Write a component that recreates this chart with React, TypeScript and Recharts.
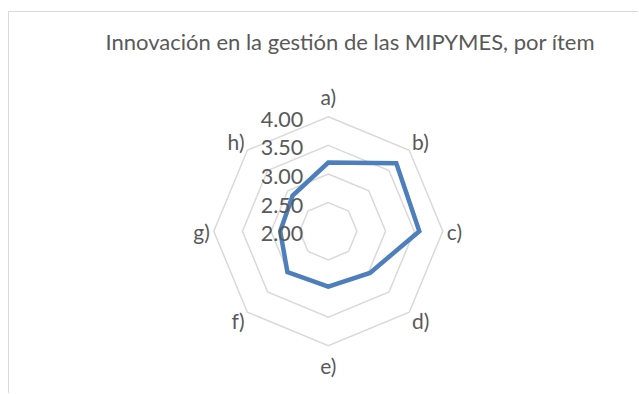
import React from "react";
import { PolarAngleAxis, PolarGrid, PolarRadiusAxis, Radar, RadarChart } from "recharts";

const items = ["a)", "b)", "c)", "d)", "e)", "f)", "g)", "h)"];
const scores = [3.2, 3.68, 3.59, 3.03, 2.97, 3.01, 2.84, 2.88];
const radiusTicks = [2, 2.5, 3, 3.5, 4];

const title = "Innovación en la gestión de las MIPYMES, por ítem";
const textColor = "#595959";
const font = "Lato, 'Open Sans', sans-serif";

const data = items.map((item, i) => ({ item, score: scores[i] }));

function AngleTick(props: any) {
  const { x, y, payload, index } = props;
  const rad = ((90 - index * 45) * Math.PI) / 180;
  const c = Math.cos(rad);
  const s = Math.sin(rad);
  let tx = x;
  let ty = y;
  let anchor: "start" | "middle" | "end" = "middle";
  if (Math.abs(c) < 0.1) {
    ty = y - s * 12;
  } else {
    anchor = c > 0 ? "start" : "end";
    tx = x - c * 4;
    ty = y - s * 4;
  }
  return (
    <text
      x={tx}
      y={ty}
      textAnchor={anchor}
      dominantBaseline="central"
      fill={textColor}
      fontFamily={font}
      fontSize={21}
    >
      {payload.value}
    </text>
  );
}

function RadiusTick(props: any) {
  const { x, y, payload } = props;
  return (
    <text
      x={x - 25}
      y={y + 2}
      textAnchor="end"
      dominantBaseline="central"
      fill={textColor}
      fontFamily={font}
      fontSize={21.5}
    >
      {Number(payload.value).toFixed(2)}
    </text>
  );
}

export default function App() {
  return (
    <div style={{ position: "absolute", left: 0, top: 0, width: 639, height: 394, overflow: "hidden", background: "#fff" }}>
      <div
        style={{
          position: "absolute",
          left: 8,
          top: 11,
          width: 629,
          height: 381,
          borderTop: "1.5px solid #d9d9d9",
          borderLeft: "1.5px solid #d9d9d9",
        }}
      />
      <div
        style={{
          position: "absolute",
          left: 0,
          width: 700,
          top: 29,
          textAlign: "center",
          fontFamily: font,
          fontSize: 22,
          color: textColor,
          lineHeight: "26px",
        }}
      >
        {title}
      </div>
      <div style={{ position: "absolute", left: 0, top: 0 }}>
        <RadarChart width={639} height={394} data={data} cx={328.3} cy={231.2} outerRadius={114.5} startAngle={90} endAngle={-270}>
          <PolarGrid gridType="polygon" radialLines={false} stroke="#d9d9d9" strokeWidth={1.5} />
          <PolarAngleAxis dataKey="item" tick={<AngleTick />} tickLine={false} axisLine={false} />
          <PolarRadiusAxis
            angle={90}
            domain={[2, 4]}
            ticks={radiusTicks}
            tick={<RadiusTick />}
            axisLine={false}
            tickLine={false}
          />
          <Radar
            dataKey="score"
            stroke="#4e7fbd"
            strokeWidth={4.5}
            fill="none"
            fillOpacity={0}
            dot={false}
            isAnimationActive={false}
          />
        </RadarChart>
      </div>
    </div>
  );
}
